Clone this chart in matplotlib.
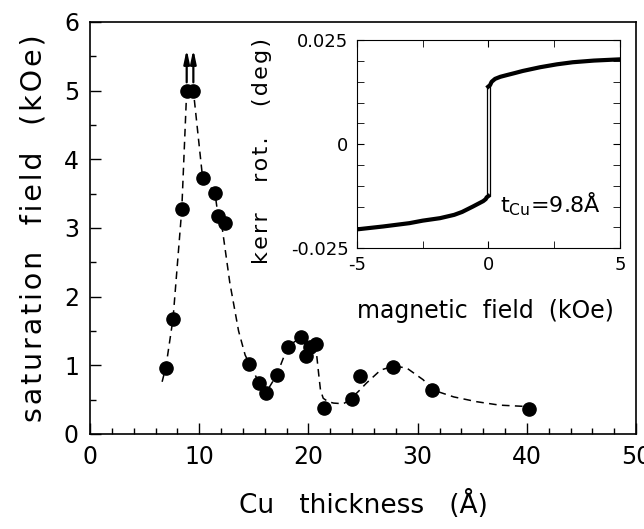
import matplotlib
matplotlib.use("Agg")
import matplotlib.pyplot as plt
from matplotlib.ticker import MultipleLocator

plt.rcParams['font.family'] = ['DejaVu Sans']

# ---- main data: saturation field vs Cu thickness ----
thickness = [6.93, 7.57, 8.4, 8.85, 9.46, 10.3, 11.45, 11.7, 12.36, 14.56, 15.5,
             16.1, 17.1, 18.1, 19.3, 19.8, 20.1, 20.7, 21.4, 24.0, 24.75, 27.7,
             31.3, 40.2]
sat_field = [0.96, 1.68, 3.27, 5.0, 5.0, 3.73, 3.51, 3.17, 3.07, 1.02, 0.74,
             0.60, 0.86, 1.27, 1.41, 1.14, 1.27, 1.31, 0.375, 0.51, 0.84, 0.97,
             0.64, 0.36]
# points that are lower bounds (arrows)
arrow_x = [8.85, 9.46]
arrow_from = [5.12, 5.12]
arrow_to = [5.6, 5.6]

# guide curve (dashed)
guide_x = [6.6, 6.95, 7.6, 8.4, 8.85, 9.15, 9.46, 10.3, 11.0, 11.45, 11.7, 12.1,
           12.8, 13.6, 14.2, 14.6, 15.5, 16.1, 17.1, 18.1, 19.3, 19.8, 20.4,
           20.75, 20.95, 21.1, 21.35, 21.8, 22.3, 23.2, 23.8, 24.7, 25.3, 26.6,
           27.8, 29.0, 30.5, 31.4, 33.3, 35.4, 37.5, 40.0]
guide_y = [0.76, 0.98, 1.68, 3.27, 5.0, 5.05, 5.0, 3.74, 3.6, 3.5, 3.2, 3.0,
           2.2, 1.5, 1.15, 1.02, 0.74, 0.60, 0.86, 1.27, 1.41, 1.28, 1.3,
           1.15, 0.85, 0.64, 0.52, 0.47, 0.45, 0.44, 0.50, 0.64, 0.74, 0.93,
           0.99, 0.96, 0.79, 0.64, 0.54, 0.47, 0.42, 0.40]

# ---- inset data: Kerr hysteresis loop (lower / upper branches) ----
field_low = [-5.0, -4.0, -3.0, -2.5, -1.84, -1.3, -1.0, -0.59, -0.35, -0.2,
             -0.1, -0.07, 0.06]
kerr_low = [-0.0205, -0.0198, -0.0190, -0.0184, -0.0178, -0.0170, -0.0163,
            -0.0150, -0.0142, -0.0137, -0.0132, -0.0128, -0.0122]
field_high = [-0.07, 0.06, 0.12, 0.25, 0.45, 0.69, 1.0, 1.3, 1.96, 2.6, 3.2,
              4.0, 5.0]
kerr_high = [0.0135, 0.0142, 0.0150, 0.0157, 0.0162, 0.0166, 0.0171, 0.0176,
             0.0185, 0.0192, 0.0197, 0.0201, 0.0204]
# switching fields
switch_up = 0.06
switch_down = -0.07

TRACK = '\u200a'


def track(s):
    return TRACK.join(s)


fig = plt.figure(figsize=(6.44, 5.29), dpi=100)
ax = fig.add_axes([0.1398, 0.1796, 0.848, 0.779])

ax.plot(guide_x, guide_y, ls=(0, (5, 3.5)), color='black', lw=1.1, zorder=2)
ax.plot(thickness, sat_field, 'o', color='black', ms=9.5, zorder=3)
for xa, y0, y1 in zip(arrow_x, arrow_from, arrow_to):
    ax.annotate('', xy=(xa, y1), xytext=(xa, y0),
                arrowprops=dict(arrowstyle='-|>,head_length=0.8,head_width=0.17',
                                color='black', lw=1.6, shrinkA=0, shrinkB=0))

ax.set_xlim(0, 50)
ax.set_ylim(0, 6)
ax.xaxis.set_major_locator(MultipleLocator(10))
ax.xaxis.set_minor_locator(MultipleLocator(2))
ax.yaxis.set_major_locator(MultipleLocator(1))
ax.yaxis.set_minor_locator(MultipleLocator(0.5))
ax.tick_params(which='both', direction='in', top=False, right=False,
               labelsize=17, pad=8)
ax.tick_params(which='major', length=8, width=1)
ax.tick_params(which='minor', length=4, width=1)
ax.set_xlabel('Cu   thickness   (Å)', fontsize=19)
ax.xaxis.set_label_coords(0.5, -0.135)
ax.set_ylabel(track('saturation  field  (kOe)'), fontsize=20.5)
ax.yaxis.set_label_coords(-0.077, 0.5)
for s in ax.spines.values():
    s.set_linewidth(1.2)

# ---- inset ----
ins = fig.add_axes([0.554, 0.531, 0.409, 0.393])
ins.plot(field_low, kerr_low, color='black', lw=3.0, solid_capstyle='butt')
ins.plot(field_high, kerr_high, color='black', lw=3.0, solid_capstyle='butt')
ins.plot([switch_up, switch_up], [kerr_low[-1], kerr_high[1]], color='black', lw=0.9)
ins.plot([switch_down, switch_down], [kerr_high[0], kerr_low[-2]], color='black', lw=0.9)
ins.set_xlim(-5, 5)
ins.set_ylim(-0.025, 0.025)
ins.set_xticks([-5, 0, 5])
ins.set_xticklabels(['-5', '0', '5'])
ins.set_yticks([-0.025, 0, 0.025])
ins.set_yticklabels(['-0.025', '0', '0.025'])
ins.xaxis.set_minor_locator(MultipleLocator(2.5))
ins.yaxis.set_minor_locator(MultipleLocator(0.005))
ins.tick_params(which='both', direction='in', top=True, right=True,
                labelsize=13, pad=6)
ins.tick_params(which='major', length=5)
ins.tick_params(which='minor', length=5)
ins.set_xlabel('magnetic  field  (kOe)', fontsize=17)
ins.xaxis.set_label_coords(0.49, -0.245)
ins.set_ylabel(track('kerr   rot.   (deg)'), fontsize=16)
ins.yaxis.set_label_coords(-0.32, 0.466)
ins.text(0.45, -0.0165, r'$\mathregular{t_{Cu}}$=9.8Å', fontsize=16)

fig.savefig('out.png', dpi=100)
